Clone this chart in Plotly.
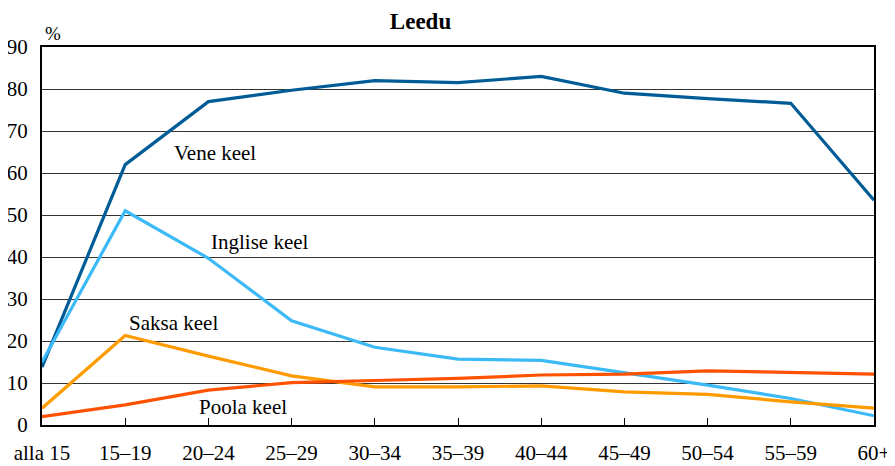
import plotly.graph_objects as go

categories = ["alla 15", "15–19", "20–24", "25–29", "30–34", "35–39",
              "40–44", "45–49", "50–54", "55–59", "60+"]
vene = [13.8, 62.0, 77.0, 79.7, 82.0, 81.5, 83.0, 79.0, 77.7, 76.6, 53.5]
inglise = [15.0, 51.0, 39.7, 24.8, 18.5, 15.7, 15.4, 12.5, 9.5, 6.3, 2.2]
saksa = [4.0, 21.3, 16.4, 11.7, 9.1, 9.1, 9.3, 7.9, 7.3, 5.5, 4.0]
poola = [2.0, 4.8, 8.3, 10.1, 10.6, 11.1, 11.9, 12.1, 12.9, 12.5, 12.1]
y_ticks = [0, 10, 20, 30, 40, 50, 60, 70, 80, 90]

series = [
    ("Vene keel", vene, "#005c97"),
    ("Inglise keel", inglise, "#3cb9f7"),
    ("Saksa keel", saksa, "#ff9b00"),
    ("Poola keel", poola, "#ff5200"),
]

FONT = "Liberation Serif"

fig = go.Figure()
for name, vals, col in series:
    fig.add_trace(go.Scatter(x=categories, y=vals, mode="lines", name=name,
                             line=dict(color=col, width=3.2), showlegend=False))

labels = [
    ("Vene keel", 2.08, 64.8),
    ("Inglise keel", 2.62, 43.6),
    ("Saksa keel", 1.575, 24.3),
    ("Poola keel", 2.42, 4.3),
]
for txt, xx, yy in labels:
    fig.add_annotation(x=xx, y=yy, xref="x", yref="y", text=txt, showarrow=False,
                       font=dict(family=FONT, size=21, color="black"))

# the page body adds an 8px offset; figure sized to fill the rest of the window
W, H = 887, 458
L, T, R, B = 34, 39, 21, 41
pw, ph = W - L - R, H - T - B
fig.add_annotation(x=(53 - 42) / pw, y=(425 - 33) / ph, xref="paper", yref="paper",
                   text="%", showarrow=False, xanchor="center", yanchor="middle",
                   font=dict(family=FONT, size=19, color="black"))

fig.update_layout(
    width=W, height=H,
    margin=dict(l=L, r=R, t=T, b=B, autoexpand=False),
    paper_bgcolor="white", plot_bgcolor="white",
    font=dict(family=FONT, size=21, color="black"),
    title=dict(text="<b>Leedu</b>", x=(420.5 - 8) / W, xanchor="center", y=1 - 13 / H,
               yanchor="middle", font=dict(family=FONT, size=23, color="black")),
    xaxis=dict(type="category", range=[0, 10], showgrid=False, showline=True,
               linecolor="black", linewidth=2, mirror=True, ticks="inside",
               ticklen=7, tickcolor="black", tickwidth=1, ticklabelstandoff=8,
               automargin=False,
               tickfont=dict(family=FONT, size=21, color="black")),
    yaxis=dict(range=[0, 90], tickvals=y_ticks, showgrid=True, gridcolor="#333333",
               gridwidth=1, showline=True, linecolor="black", linewidth=2, mirror=True,
               ticks="", ticklabelstandoff=8, zeroline=False, automargin=False,
               tickfont=dict(family=FONT, size=21, color="black")),
)

fig.write_html("out.html")
